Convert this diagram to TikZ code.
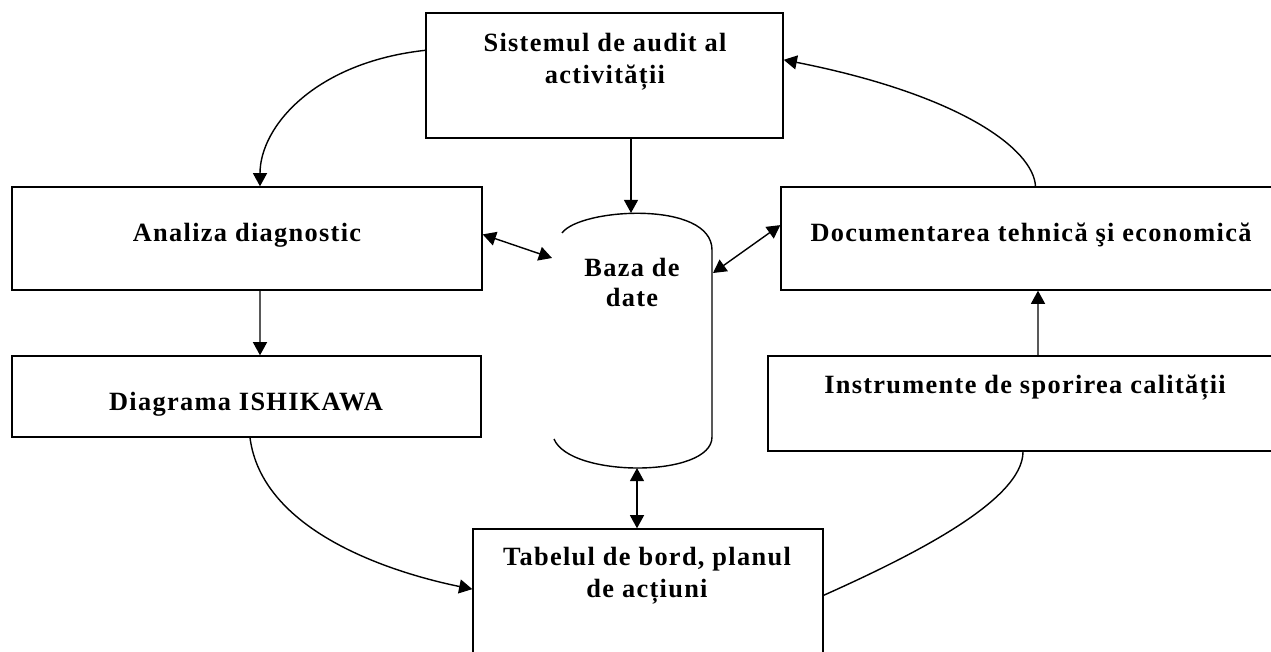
\documentclass[tikz,border=0pt]{standalone}
\usepackage{fontspec}
\setmainfont{Liberation Serif}
\usetikzlibrary{arrows.meta,calc,fit}
\tikzset{
  box/.style={draw, line width=0.8pt, inner sep=0pt},
  lbl/.style={font=\bfseries\fontsize{15}{18.5}\selectfont\addfontfeature{LetterSpace=5}, align=center, inner sep=0pt},
  line/.style={line width=0.8pt},
  arr/.style={line width=0.8pt, -{Triangle[length=7.5pt,width=8pt]}},
  arrs/.style={line width=0.8pt, {Triangle[length=7.5pt,width=8pt]}-{Triangle[length=7.5pt,width=8pt]}},
}
\begin{document}
\begin{tikzpicture}[x=0.02cm,y=-0.02cm]
		%%%%% FRAME %%%%%
		\useasboundingbox (0,0) rectangle (1271,652);
		\clip (0,0) rectangle (1271,652);
		
		%%%%% BOXES %%%%%
		\node[box, fit={(426,13) (783,138)}] (sist) {};
		\node[box, fit={(12,187) (482,290)}] (anal) {};
		\node[box, fit={(12,356) (481,437)}] (diag) {};
		\node[box, fit={(781,187) (1290,290)}] (docu) {};
		\node[box, fit={(768,356) (1290,451)}] (instr) {};
		\node[box, fit={(473,529) (823,680)}] (tab) {};
		
		\node[lbl] (sistT) at (605,61.5) {Sistemul de audit al\\activității};
		\node[lbl] (analT) at (247,235) {Analiza diagnostic};
		\node[lbl] (diagT) at (246,404) {Diagrama ISHIKAWA};
		\node[lbl] (docuT) at (1031,235) {Documentarea tehnică şi economică};
		\node[lbl] (instrT) at (1025,388) {Instrumente de sporirea calității};
		\node[lbl] (tabT) at (647,575.5) {Tabelul de bord, planul\\de acțiuni};
		
		%%%%% DATABASE %%%%%
		\draw[line] (562,233) .. controls (580,208) and (712,200) .. (712,250)
			-- (712,437) .. controls (712,478) and (570,478) .. (554,439);
		\node[lbl, font=\bfseries\fontsize{15}{17.5}\selectfont\addfontfeature{LetterSpace=5}] (baza) at (632,282.5) {Baza de\\date};
		\coordinate (dbT) at (631,213);
		\coordinate (dbL) at (552,258);
		\coordinate (dbR) at (713,273);
		\coordinate (dbB) at (637,468);
		
		%%%%% ARROWS %%%%%
		\draw[arr] (sist.south -| dbT) -- (dbT);
		\draw[arrs] (anal.1.3) -- (dbL);
		\draw[arrs] (dbR) -- (docu.177.9);
		\draw[arrs] (dbB) -- (dbB |- tab.north);
		
		\draw[arr] (sist.172.5) .. controls +(-110,12) and +(0,-60) .. ($(anal.north)+(13,0)$);
		\draw[arr] ($(anal.south)+(13,0)$) -- ($(diag.north)+(13.5,0)$);
		\draw[arr] ($(diag.south)+(3.5,0)$) .. controls +(12,93) and +(-83,-17) .. (tab.175.9);
		\draw[line] (tab.3.5) .. controls +(87,-39) and +(0,49) .. ($(instr.south)+(-6,0)$);
		\draw[arr] ($(instr.north)+(9,0)$) -- ($(docu.south)+(2.5,0)$);
		\draw[arr] (docu.north) .. controls +(-2,-37) and +(177,35) .. (sist.5);
		
\end{tikzpicture}
\end{document}
